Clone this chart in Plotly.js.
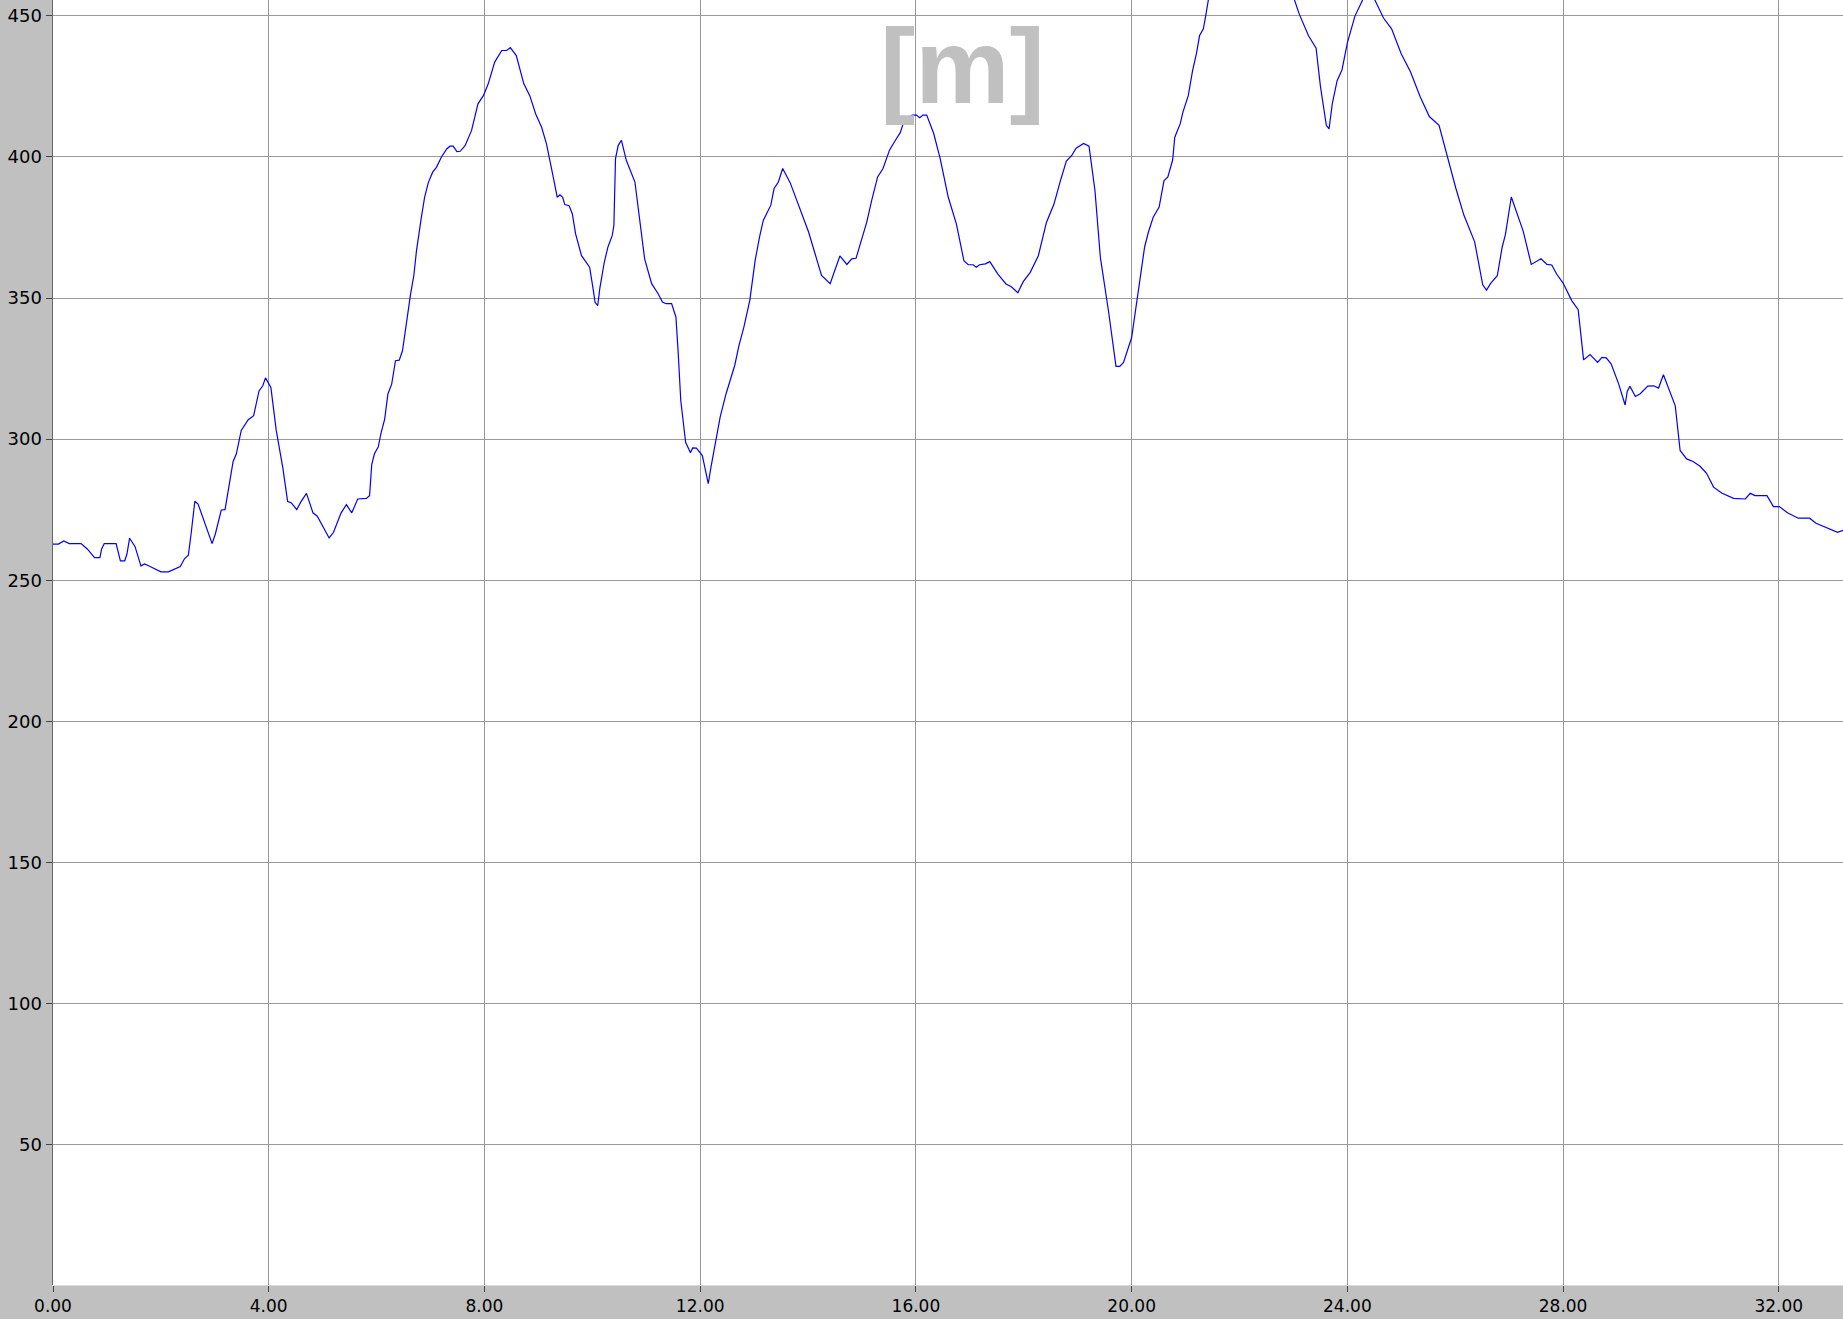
<!DOCTYPE html>
<html>
<head>
<meta charset="utf-8">
<script src="https://cdn.plot.ly/plotly-3.0.1.min.js"></script>
<style>html,body{margin:0;padding:0;background:#c0c0c0;}#chart{width:1843px;height:1319px;}</style>
</head>
<body>
<div id="chart"></div>
<script>
// distance along the track [km]
const distance = [
0.00,0.10,0.20,0.30,0.52,0.64,0.77,0.87,0.90,0.95,1.17,1.25,1.33,1.37,1.42,1.52,1.63,1.70,1.80,2.00,
2.14,2.36,2.44,2.51,2.56,2.63,2.69,2.95,3.01,3.12,3.19,3.34,3.40,3.49,3.62,3.72,3.82,3.89,3.94,4.04,
4.14,4.26,4.35,4.42,4.52,4.59,4.70,4.82,4.90,5.12,5.20,5.34,5.44,5.54,5.65,5.81,5.87,5.91,5.96,6.03,
6.08,6.15,6.21,6.28,6.35,6.42,6.48,6.58,6.63,6.69,6.74,6.83,6.89,6.96,7.04,7.11,7.20,7.30,7.36,7.42,
7.49,7.55,7.64,7.76,7.88,7.98,8.07,8.19,8.32,8.41,8.48,8.59,8.73,8.84,8.95,9.06,9.15,9.27,9.35,9.40,
9.45,9.49,9.57,9.63,9.69,9.80,9.95,10.02,10.05,10.10,10.14,10.22,10.29,10.37,10.40,10.43,10.48,10.54,10.63,10.79,
10.88,10.97,11.10,11.22,11.30,11.37,11.47,11.55,11.59,11.64,11.73,11.82,11.86,11.93,12.04,12.15,12.20,12.27,12.37,12.48,
12.55,12.64,12.72,12.81,12.92,13.02,13.10,13.17,13.31,13.37,13.45,13.53,13.67,13.84,14.01,14.13,14.25,14.41,14.50,14.59,
14.72,14.81,14.89,14.97,15.09,15.18,15.29,15.39,15.51,15.62,15.71,15.78,15.93,16.01,16.07,16.13,16.20,16.33,16.45,16.60,
16.75,16.89,16.97,17.06,17.12,17.18,17.29,17.37,17.52,17.67,17.77,17.89,17.99,18.12,18.27,18.42,18.56,18.68,18.79,18.89,
18.97,19.11,19.21,19.32,19.42,19.57,19.71,19.78,19.85,20.00,20.12,20.24,20.31,20.40,20.51,20.60,20.67,20.76,20.80,20.90,
20.95,21.05,21.13,21.20,21.26,21.33,21.38,21.42,21.60,21.80,22.00,22.20,22.40,22.60,22.80,23.02,23.11,23.28,23.42,23.50,
23.61,23.66,23.72,23.81,23.90,24.00,24.14,24.25,24.33,24.42,24.51,24.67,24.82,25.00,25.17,25.35,25.52,25.70,25.87,26.01,
26.16,26.36,26.51,26.58,26.66,26.78,26.87,26.93,27.04,27.26,27.41,27.59,27.70,27.79,27.88,28.00,28.16,28.28,28.38,28.50,
28.64,28.72,28.80,28.89,29.03,29.15,29.19,29.24,29.34,29.43,29.57,29.68,29.77,29.86,30.08,30.17,30.29,30.41,30.54,30.66,
30.79,30.94,31.16,31.38,31.47,31.56,31.78,31.90,32.01,32.16,32.36,32.57,32.69,33.09,33.19
];
// elevation [m]
const elevation = [
262.8,262.8,263.9,263.0,263.0,261.0,258.0,258.0,261.0,263.0,263.0,256.9,256.9,259.2,264.9,262.0,255.1,255.8,254.9,253.0,
253.0,254.9,257.7,258.9,266.4,278.0,277.0,263.0,266.4,274.9,275.0,292.1,294.8,303.1,306.9,308.3,317.1,318.9,321.7,318.3,
303.0,290.0,278.0,277.4,275.0,277.6,280.8,273.9,272.7,265.0,266.9,273.8,276.8,273.9,278.8,279.0,280.0,291.0,294.8,297.2,
302.0,307.1,316.0,319.5,327.8,328.0,331.3,345.5,351.4,357.9,366.8,378.6,385.7,391.0,394.6,396.3,399.9,402.8,403.8,403.8,
401.9,402.0,404.0,409.3,418.8,421.7,425.9,433.6,437.7,437.7,438.7,435.9,425.9,421.7,415.2,410.5,404.6,393.4,385.7,386.6,
385.7,383.1,382.7,379.8,372.7,365.0,360.9,352.6,348.5,347.3,353.5,362.5,368.1,372.2,375.8,399.4,404.1,405.9,398.8,391.1,
376.4,363.9,355.1,351.5,348.6,348.0,348.0,343.3,331.4,313.7,298.9,295.2,296.9,296.8,294.2,284.2,290.1,297.2,307.8,316.1,
320.8,326.1,333.2,339.7,349.2,363.4,371.6,377.5,382.9,388.8,391.1,395.9,390.8,382.3,373.4,365.7,358.0,355.1,359.8,364.9,
361.9,363.9,364.1,369.3,377.0,384.6,392.9,395.9,402.4,405.9,408.6,412.8,414.8,414.8,413.9,414.8,414.8,408.3,399.4,385.7,
376.3,363.2,361.8,361.8,360.9,361.8,362.1,362.9,358.5,355.0,354.0,351.9,355.8,359.1,365.0,376.8,383.3,391.6,398.5,400.5,
403.1,404.8,403.8,388.1,364.4,345.5,325.8,325.8,327.2,336.0,351.4,368.0,373.3,378.6,382.2,391.6,392.8,398.9,407.0,411.7,
415.8,421.7,430.6,436.5,443.0,445.4,450.7,455.4,467.0,477.0,484.0,488.0,487.0,480.0,468.0,455.6,450.5,442.9,438.5,425.1,
411.2,409.9,418.8,427.0,430.8,440.4,449.9,454.3,457.5,457.8,455.6,449.2,445.4,436.5,430.2,421.3,414.3,411.2,398.5,389.0,
379.4,369.9,354.7,352.8,355.3,357.9,368.0,372.5,385.8,373.7,361.9,363.9,361.9,361.7,358.5,355.3,349.1,345.9,328.1,330.0,
327.2,329.0,328.8,326.7,319.6,312.1,317.0,318.7,315.1,316.1,318.8,318.9,318.1,322.8,311.8,296.0,293.0,292.1,290.4,287.9,
283.0,280.9,279.0,278.8,280.8,280.0,280.0,276.1,276.1,273.9,272.0,272.0,270.2,267.0,267.7
];
const xTicks = [0, 4, 8, 12, 16, 20, 24, 28, 32];
const yTicks = [50, 100, 150, 200, 250, 300, 350, 400, 450];
const unitLabel = "[m]";

const trace = {
  x: distance, y: elevation, type: 'scatter', mode: 'lines',
  line: {color: '#0000ff', width: 1.2}, hoverinfo: 'skip'
};

const layout = {
  width: 1843, height: 1319,
  margin: {l: 53, r: 0, t: 0, b: 34, pad: 0},
  paper_bgcolor: '#c0c0c0', plot_bgcolor: '#ffffff',
  showlegend: false,
  font: {family: 'DejaVu Sans, sans-serif', size: 18, color: '#000000'},
  xaxis: {
    range: [0, 33.19], tickvals: xTicks, tickformat: '.2f',
    showgrid: true, gridcolor: '#999999', gridwidth: 1,
    zeroline: false, showline: true, linecolor: '#dcdcdc', linewidth: 1,
    ticks: 'outside', ticklen: 6, tickcolor: '#444444', tickwidth: 1,
    tickfont: {family: 'DejaVu Sans, sans-serif', size: 17, color: '#000'}
  },
  yaxis: {
    range: [0.3, 455.6], tickvals: yTicks,
    showgrid: true, gridcolor: '#999999', gridwidth: 1,
    zeroline: false, showline: true, linecolor: '#666666', linewidth: 1.5,
    ticks: 'outside', ticklen: 6, tickcolor: '#444444', tickwidth: 1,
    tickfont: {family: 'DejaVu Sans, sans-serif', size: 18, color: '#000'}
  },
  annotations: [{
    text: unitLabel, xref: 'paper', yref: 'paper', x: 0.508, y: 0.9486,
    xanchor: 'center', yanchor: 'middle', showarrow: false,
    font: {family: 'Liberation Sans, Arial, sans-serif', size: 106, color: '#c0c0c0', weight: 'bold'}
  }]
};

Plotly.newPlot('chart', [trace], layout, {displayModeBar: false, staticPlot: true});
</script>
</body>
</html>
